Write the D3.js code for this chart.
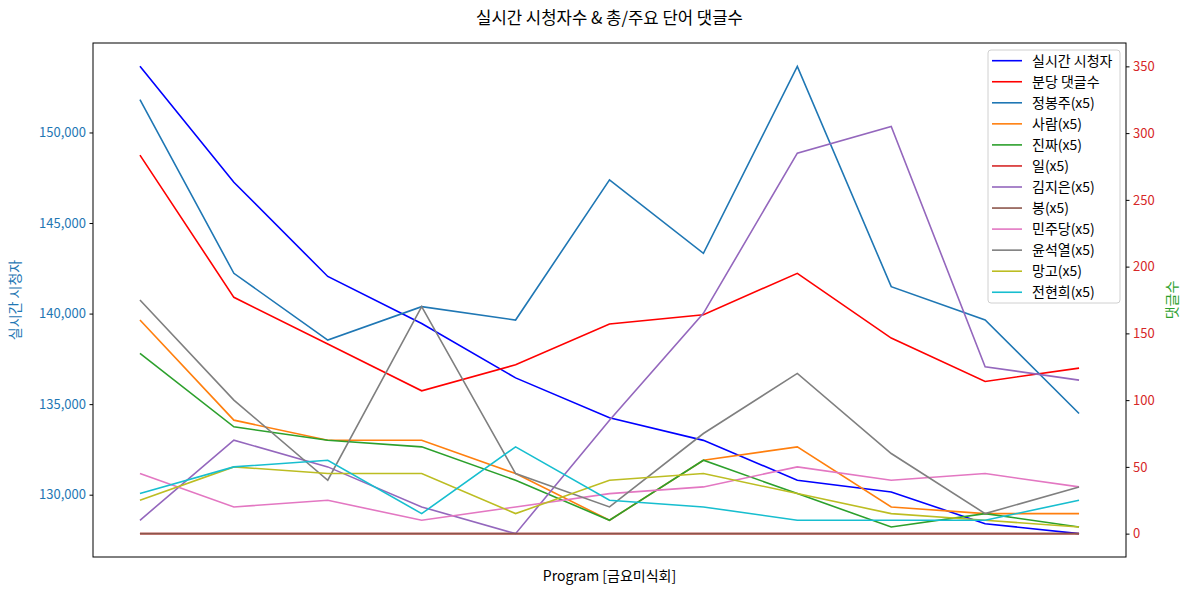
<!DOCTYPE html>
<html><head><meta charset="utf-8">
<script src="https://cdn.jsdelivr.net/npm/d3@7"></script>
<style>body{margin:0;background:#fff}text{font-family:"Noto Sans CJK KR","Noto Sans",sans-serif}</style>
</head><body><svg id="c" width="1189" height="592"></svg>
<script>
const programs = d3.range(11);
const viewers = [153650, 147250, 142050, 139450, 136450, 134250, 133000, 130800, 130150, 128400, 127850];
const perMinute = [283.5, 177, 142, 107, 126.5, 157, 164, 195, 146.5, 114, 124];
const wordNames = ["정봉주(x5)","사람(x5)","진짜(x5)","일(x5)","김지은(x5)","봉(x5)","민주당(x5)","윤석열(x5)","망고(x5)","전현희(x5)"];
const w_jbj = [325, 195, 145, 170, 160, 265, 210, 350, 185, 160, 90];
const w_saram = [160, 85, 70, 70, 45, 10, 55, 65, 20, 15, 15];
const w_jinjja = [135, 80, 70, 65, 40, 10, 55, 30, 5, 15, 5];
const w_il = [0, 0, 0, 0, 0, 0, 0, 0, 0, 0, 0];
const w_kjy = [10, 70, 50, 20, 0, 85, 165, 285, 305, 125, 115];
const w_bong = [0, 0, 0, 0, 0, 0, 0, 0, 0, 0, 0];
const w_mjd = [45, 20, 25, 10, 20, 30, 35, 50, 40, 45, 35];
const w_ysy = [175, 100, 40, 170, 45, 20, 75, 120, 60, 15, 35];
const w_mango = [25, 50, 45, 45, 15, 40, 45, 30, 15, 10, 5];
const w_jhh = [30, 50, 55, 15, 65, 25, 20, 10, 10, 10, 25];
const wordSeries = [w_jbj, w_saram, w_jinjja, w_il, w_kjy, w_bong, w_mjd, w_ysy, w_mango, w_jhh];
const wordColors = ["#1f77b4","#ff7f0e","#2ca02c","#d62728","#9467bd","#8c564b","#e377c2","#7f7f7f","#bcbd22","#17becf"];
const leftTicks = [130000, 135000, 140000, 145000, 150000];
const rightTicks = [0, 50, 100, 150, 200, 250, 300, 350];

const svg = d3.select("#c");
const L = 93, R = 1126, T = 43, B = 557;
const vMin = d3.min(viewers), vMax = d3.max(viewers), vPad = (vMax - vMin) * 0.05;
const yL = d3.scaleLinear().domain([vMin - vPad, vMax + vPad]).range([B, T]);
const allR = [].concat(perMinute, ...wordSeries);
const rMin = d3.min(allR), rMax = d3.max(allR), rPad = (rMax - rMin) * 0.05;
const yR = d3.scaleLinear().domain([rMin - rPad, rMax + rPad]).range([B, T]);
const x = d3.scaleLinear().domain([-0.5, 10.5]).range([L, R]);

const fmt = d3.format(",");
const gL = svg.append("g").attr("transform", `translate(${L},0)`)
  .call(d3.axisLeft(yL).tickValues(leftTicks).tickFormat(fmt).tickSize(3.5).tickPadding(3.5));
gL.select(".domain").remove();
gL.selectAll("line").attr("stroke", "#000");
gL.selectAll("text").attr("fill", "#1f77b4").style("font-size", "13px");
const gR = svg.append("g").attr("transform", `translate(${R},0)`)
  .call(d3.axisRight(yR).tickValues(rightTicks).tickSize(3.5).tickPadding(3.5));
gR.select(".domain").remove();
gR.selectAll("line").attr("stroke", "#000");
gR.selectAll("text").attr("fill", "#d62728").style("font-size", "13px");

const lineL = d3.line().x((d, i) => x(programs[i])).y(d => yL(d));
const lineR = d3.line().x((d, i) => x(programs[i])).y(d => yR(d));
svg.append("path").attr("d", lineL(viewers)).attr("fill", "none").attr("stroke", "#0000ff").attr("stroke-width", 1.6);
svg.append("path").attr("d", lineR(perMinute)).attr("fill", "none").attr("stroke", "#ff0000").attr("stroke-width", 1.6);
wordSeries.forEach((s, k) => {
  svg.append("path").attr("d", lineR(s)).attr("fill", "none").attr("stroke", wordColors[k]).attr("stroke-width", 1.6);
});

svg.append("rect").attr("x", L).attr("y", T).attr("width", R - L).attr("height", B - T)
  .attr("fill", "none").attr("stroke", "#000").attr("stroke-width", 1);

svg.append("text").attr("x", (L + R) / 2).attr("y", 24).attr("text-anchor", "middle")
  .style("font-size", "16.7px").attr("fill", "#000").text("실시간 시청자수 & 총/주요 단어 댓글수");
svg.append("text").attr("x", (L + R) / 2).attr("y", 581).attr("text-anchor", "middle")
  .style("font-size", "14px").attr("fill", "#000").text("Program [금요미식회]");
svg.append("text").attr("transform", `translate(20,${(T + B) / 2}) rotate(-90)`).attr("text-anchor", "middle")
  .style("font-size", "14px").attr("fill", "#1f77b4").text("실시간 시청자");
svg.append("text").attr("transform", `translate(1177,${(T + B) / 2}) rotate(-90)`).attr("text-anchor", "middle")
  .style("font-size", "14px").attr("fill", "#2ca02c").text("댓글수");

// legend
const legNames = ["실시간 시청자", "분당 댓글수"].concat(wordNames);
const legColors = ["#0000ff", "#ff0000"].concat(wordColors);
const lg = svg.append("g");
lg.append("rect").attr("x", 988).attr("y", 50).attr("width", 132).attr("height", 253).attr("rx", 3)
  .attr("fill", "#fff").attr("fill-opacity", 0.8).attr("stroke", "#d0d0d0");
legNames.forEach((n, i) => {
  const yy = 60.7 + i * 21.05;
  lg.append("line").attr("x1", 992).attr("x2", 1022).attr("y1", yy).attr("y2", yy)
    .attr("stroke", legColors[i]).attr("stroke-width", 1.6);
  lg.append("text").attr("x", 1032).attr("y", yy + 5).style("font-size", "14px").attr("fill", "#000").text(n);
});
</script></body></html>
